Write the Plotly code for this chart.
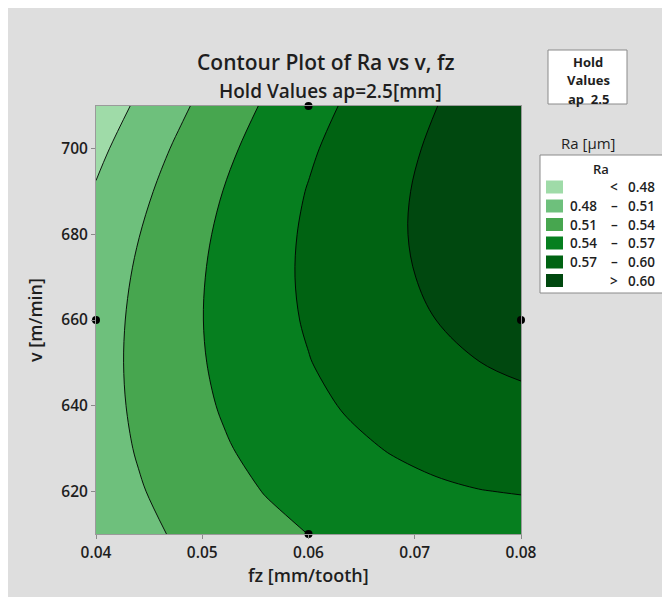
import plotly.graph_objects as go

# axes values
fz = [0.040, 0.044, 0.048, 0.052, 0.056, 0.060, 0.064, 0.068, 0.072, 0.076, 0.080]
v = [610, 620, 630, 640, 650, 660, 670, 680, 690, 700, 710]

# Ra [um], rows follow v, columns follow fz
ra = [
    [0.4896, 0.5025, 0.5139, 0.5240, 0.5328, 0.5402, 0.5460, 0.5510, 0.5542, 0.5565, 0.5574],
    [0.4939, 0.5078, 0.5203, 0.5314, 0.5411, 0.5494, 0.5563, 0.5620, 0.5663, 0.5694, 0.5712],
    [0.4970, 0.5120, 0.5255, 0.5375, 0.5482, 0.5574, 0.5653, 0.5718, 0.5771, 0.5810, 0.5836],
    [0.4987, 0.5147, 0.5292, 0.5423, 0.5539, 0.5641, 0.5728, 0.5803, 0.5864, 0.5911, 0.5945],
    [0.4989, 0.5160, 0.5315, 0.5455, 0.5580, 0.5691, 0.5788, 0.5871, 0.5940, 0.5997, 0.6041],
    [0.4976, 0.5156, 0.5321, 0.5471, 0.5605, 0.5725, 0.5831, 0.5922, 0.6000, 0.6064, 0.6115],
    [0.4944, 0.5135, 0.5309, 0.5468, 0.5612, 0.5741, 0.5855, 0.5955, 0.6041, 0.6113, 0.6171],
    [0.4894, 0.5094, 0.5278, 0.5447, 0.5599, 0.5737, 0.5860, 0.5968, 0.6062, 0.6142, 0.6208],
    [0.4824, 0.5033, 0.5227, 0.5404, 0.5566, 0.5712, 0.5843, 0.5959, 0.6061, 0.6149, 0.6223],
    [0.4731, 0.4950, 0.5153, 0.5340, 0.5510, 0.5665, 0.5804, 0.5928, 0.6038, 0.6133, 0.6213],
    [0.4616, 0.4845, 0.5057, 0.5253, 0.5433, 0.5597, 0.5745, 0.5878, 0.5996, 0.6099, 0.6187],
]

# design points
pt_fz = [0.06, 0.04, 0.08, 0.06]
pt_v = [710, 660, 660, 610]

levels = [0.48, 0.51, 0.54, 0.57, 0.60]
band_labels = [("", "<", "0.48"), ("0.48", "–", "0.51"), ("0.51", "–", "0.54"),
               ("0.54", "–", "0.57"), ("0.57", "–", "0.60"), ("", ">", "0.60")]
band_colors = ['#9fdba8', '#6ec07c', '#47a64f', '#067f1f', '#006312', '#00480f']

x_ticks = [0.04, 0.05, 0.06, 0.07, 0.08]
y_ticks = [620, 640, 660, 680, 700]

FONT = "Open Sans"
TXT = "#1e1e1e"

# page pixel -> paper coordinates (plot area spans page x 96..521, y 106..534)
def PX(X):
    return (X - 96) / 425.0

def PY(Y):
    return (534 - Y) / 428.0

zmin, zmax = 0.45, 0.63
bounds = [0.0] + [(lv - 0.005 - zmin) / (zmax - zmin) for lv in levels] + [1.0]
cscale = []
for i, c in enumerate(band_colors):
    cscale.append([bounds[i], c])
    cscale.append([bounds[i + 1], c])

fig = go.Figure()
fig.add_trace(go.Contour(
    x=fz, y=v, z=ra, zmin=zmin, zmax=zmax, colorscale=cscale, showscale=False,
    contours=dict(start=levels[0], end=levels[-1], size=0.03, coloring='fill'),
    line=dict(color='black', width=0.9, smoothing=1.0), hoverinfo='skip'))
fig.add_trace(go.Scatter(
    x=pt_fz, y=pt_v, mode='markers', marker=dict(color='black', size=8),
    cliponaxis=False, showlegend=False, hoverinfo='skip'))

ann = []
shapes = []

def text(X, Y, t, size, weight=600, xanchor='center', angle=0):
    ann.append(dict(x=PX(X), y=PY(Y), xref='paper', yref='paper', text=t, showarrow=False,
                    xanchor=xanchor, yanchor='middle', textangle=angle,
                    font=dict(family=FONT, size=size, color=TXT, weight=weight)))

text(326, 62, "Contour Plot of Ra vs v, fz", 21)
text(330, 91, "Hold Values ap=2.5[mm]", 19)
text(308, 575, "fz [mm/tooth]", 18)
text(35, 320, "v [m/min]", 18, angle=-90)

# hold values box
shapes.append(dict(type='rect', xref='paper', yref='paper', x0=PX(548), x1=PX(627), y0=PY(104), y1=PY(50),
                   fillcolor='white', line=dict(color='#8a8a8a', width=1)))
for t, yy in [("Hold", 62), ("Values", 80.5), ("ap  2.5", 99)]:
    text(588, yy, t, 13, weight=700)
text(588, 143, "Ra [µm]", 15, weight=400)

# legend box
shapes.append(dict(type='rect', xref='paper', yref='paper', x0=PX(540), x1=PX(663), y0=PY(293), y1=PY(155),
                   fillcolor='white', line=dict(color='#8a8a8a', width=1)))
text(601, 169, "Ra", 13)
row_y = [187, 206, 224.5, 243, 262, 280.5]
for (lo, sym, hi), col, yy in zip(band_labels, band_colors, row_y):
    shapes.append(dict(type='rect', xref='paper', yref='paper', x0=PX(546), x1=PX(563),
                       y0=PY(yy + 6.5), y1=PY(yy - 6.5), fillcolor=col, line=dict(width=0)))
    if lo:
        text(599, yy, lo, 13.5, xanchor='right')
    text(614, yy, sym, 13.5)
    text(657, yy, hi, 13.5, xanchor='right')

fig.update_layout(
    width=662, height=589,
    margin=dict(l=88, r=149, t=98, b=63),
    paper_bgcolor='#dedede', plot_bgcolor='#dedede',
    showlegend=False, annotations=ann, shapes=shapes,
    xaxis=dict(range=[0.04, 0.08], tickvals=x_ticks, ticktext=["%.2f" % t for t in x_ticks],
               ticks='outside', ticklen=4, tickcolor='#8a8a8a', showgrid=False, zeroline=False,
               showline=True, linecolor='#9a9a9a', mirror=True,
               tickfont=dict(family=FONT, size=15.5, color=TXT, weight=600)),
    yaxis=dict(range=[610, 710], tickvals=y_ticks, ticktext=[str(t) for t in y_ticks],
               ticks='outside', ticklen=4, tickcolor='#8a8a8a', showgrid=False, zeroline=False,
               showline=True, linecolor='#9a9a9a', mirror=True,
               tickfont=dict(family=FONT, size=15.5, color=TXT, weight=600)),
)
fig.write_html("out.html")
